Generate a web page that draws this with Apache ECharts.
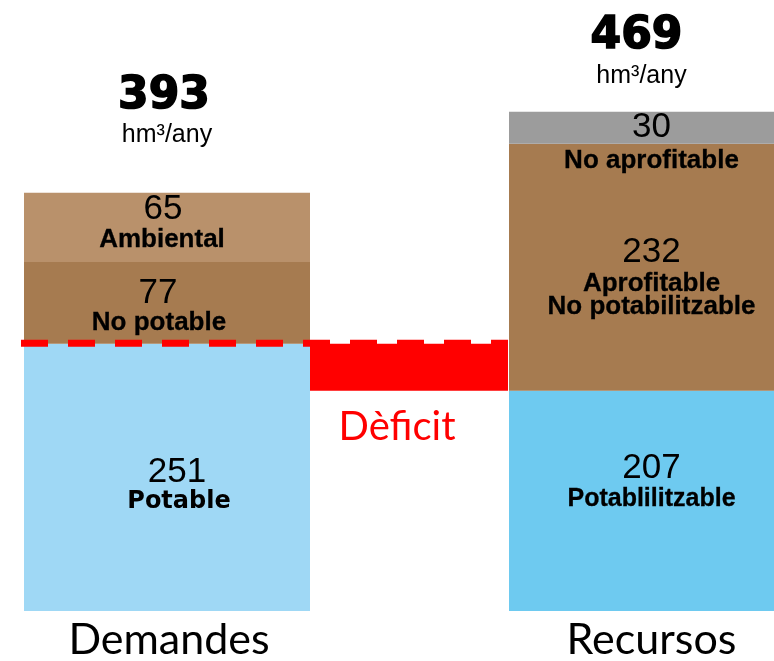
<!DOCTYPE html>
<html><head><meta charset="utf-8">
<script src="https://cdn.jsdelivr.net/npm/echarts@6/dist/echarts.min.js"></script>
<style>html,body{margin:0;padding:0;background:#fff}#c{width:774px;height:661px}</style>
</head><body><div id="c"></div>
<script>
// ---- data ----
const categories = ['Demandes', 'Recursos'];
const demandNames = ['Potable', 'No potable', 'Ambiental'];
const demandValues = [251, 77, 65];
const resourceNames = ['Potablilitzable', 'Aprofitable\nNo potabilitzable', 'No aprofitable'];
const resourceValues = [207, 232, 30];
const totals = [393, 469];
const unitText = 'hm³/any';
const deficitText = 'Dèficit';

// ---- layout / style (x axis runs in page pixels 0..774) ----
const layout = {
  bars: [[24, 310], [509, 774]],
  deficit: [310, 508],
  dashFrom: 21,
  colors: [['#9fd8f5', '#a67b50', '#b9916b'], ['#6ecaf0', '#a67b50', '#9c9c9c']],
  valDx: [[10, -9, -4], [10, 10, 10]],
  valDy: [[-5, -10, -18], [-33, -15, 0]],
  nameDx: [[12, -8, -5], [10, 10, 10]],
  nameDy: [[24, 20, 13], [-2, 28, 33]],
  nameFont: [['DejaVu Sans', 'Liberation Sans', 'Liberation Sans'], ['Liberation Sans', 'Liberation Sans', 'Liberation Sans']],
  nameSize: [[24, 26, 26], [25, 26, 26]],
  nameStroke: [[0, 0.3, 0.3], [0.3, 0.3, 0.3]],
  totalDx: [-3, -5],
  totalDy: [-96, -75],
  unitDx: [0, 0],
  unitDy: [-58, -36]
};

const groups = [
  { values: demandValues, names: demandNames },
  { values: resourceValues, names: resourceNames }
];

const segData = [];
groups.forEach((g, b) => {
  let acc = 0;
  g.values.forEach((v, s) => { segData.push([b, s, acc, acc + v]); acc += v; });
});
const totalData = totals.map((t, b) => [b, t]);
const deficitData = [[resourceValues[0], demandValues[0]]];

const chart = echarts.init(document.getElementById('c'));
chart.setOption({
  animation: false,
  grid: { left: 0, right: 0, top: 15, bottom: 50 },
  xAxis: { type: 'value', min: 0, max: 774, show: false },
  yAxis: { type: 'value', min: 0, max: 560, show: false },
  series: [
    {
      type: 'custom',
      data: segData,
      renderItem: function (params, api) {
        const b = api.value(0), s = api.value(1), y0 = api.value(2), y1 = api.value(3);
        const span = layout.bars[b];
        const p0 = api.coord([span[0], y0]);
        const p1 = api.coord([span[1], y1]);
        const cx = (p0[0] + p1[0]) / 2, cy = (p0[1] + p1[1]) / 2;
        const nameStyle = { text: groups[b].names[s], fontFamily: layout.nameFont[b][s], fontWeight: 'bold',
                            fontSize: layout.nameSize[b][s], lineHeight: 23,
                            fill: '#000', align: 'center', verticalAlign: 'middle' };
        if (layout.nameStroke[b][s] > 0) { nameStyle.stroke = '#000'; nameStyle.lineWidth = layout.nameStroke[b][s]; }
        return {
          type: 'group',
          children: [
            { type: 'rect', shape: { x: p0[0], y: p1[1], width: p1[0] - p0[0], height: p0[1] - p1[1] },
              style: { fill: layout.colors[b][s] } },
            { type: 'text', x: cx + layout.valDx[b][s], y: cy + layout.valDy[b][s], z2: 10,
              style: { text: String(groups[b].values[s]), fontFamily: 'Liberation Sans', fontSize: 35,
                       fill: '#000', align: 'center', verticalAlign: 'middle' } },
            { type: 'text', x: cx + layout.nameDx[b][s], y: cy + layout.nameDy[b][s], z2: 10,
              style: nameStyle }
          ]
        };
      }
    },
    {
      type: 'custom',
      data: deficitData,
      z: 3,
      renderItem: function (params, api) {
        const lo = api.value(0), hi = api.value(1);
        const p0 = api.coord([layout.deficit[0], lo]);
        const p1 = api.coord([layout.deficit[1], hi]);
        const pa = api.coord([layout.dashFrom, hi]);
        const pb = api.coord([layout.deficit[1], hi]);
        return {
          type: 'group',
          children: [
            { type: 'rect', shape: { x: p0[0], y: p1[1], width: p1[0] - p0[0], height: p0[1] - p1[1] },
              style: { fill: '#ff0000' } },
            { type: 'line', shape: { x1: pa[0], y1: pa[1] - 0.5, x2: pb[0], y2: pb[1] - 0.5 },
              style: { stroke: '#ff0000', lineWidth: 7, lineDash: [27, 20] } },
            { type: 'text', x: (p0[0] + p1[0]) / 2 - 12, y: p0[1] + 36,
              style: { text: deficitText, fontFamily: 'Lato', fontSize: 40, fill: '#ff0000',
                       align: 'center', verticalAlign: 'middle' } }
          ]
        };
      }
    },
    {
      type: 'custom',
      data: totalData,
      renderItem: function (params, api) {
        const b = api.value(0), t = api.value(1);
        const span = layout.bars[b];
        const p = api.coord([(span[0] + span[1]) / 2, t]);
        const base = api.coord([(span[0] + span[1]) / 2, 0]);
        return {
          type: 'group',
          children: [
            { type: 'text', x: p[0] + layout.totalDx[b], y: p[1] + layout.totalDy[b],
              style: { text: String(t), fontFamily: 'DejaVu Sans', fontWeight: 'bold', fontSize: 44,
                       stroke: '#000', lineWidth: 1.6,
                       fill: '#000', align: 'center', verticalAlign: 'middle' } },
            { type: 'text', x: p[0] + layout.unitDx[b], y: p[1] + layout.unitDy[b],
              style: { text: unitText, fontFamily: 'Liberation Sans', fontSize: 25,
                       fill: '#000', align: 'center', verticalAlign: 'middle' } },
            { type: 'text', x: base[0] + (b === 0 ? 2 : 10), y: base[1] + 29,
              style: { text: categories[b], fontFamily: 'Lato', fontSize: 43,
                       fill: '#000', align: 'center', verticalAlign: 'middle' } }
          ]
        };
      }
    }
  ]
});
</script></body></html>
